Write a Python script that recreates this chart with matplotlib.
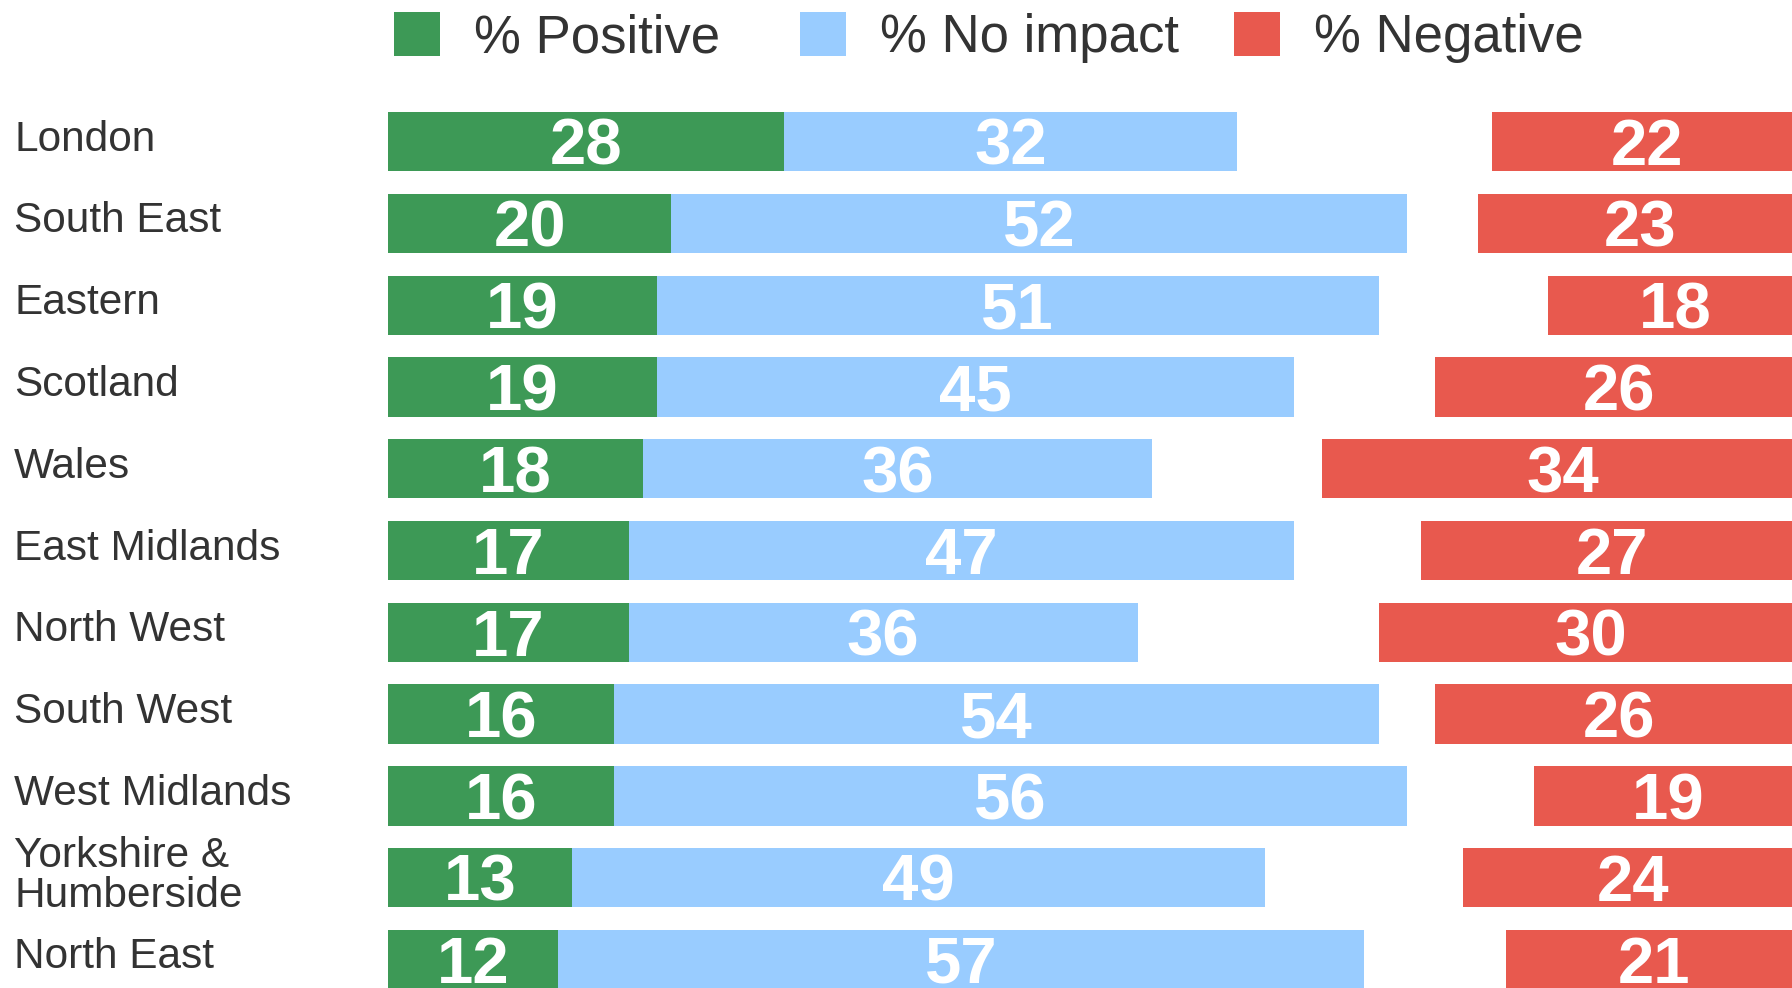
import matplotlib.pyplot as plt
from matplotlib.transforms import blended_transform_factory

regions = ["London", "South East", "Eastern", "Scotland", "Wales", "East Midlands",
           "North West", "South West", "West Midlands", "Yorkshire &\nHumberside", "North East"]
positive = [28, 20, 19, 19, 18, 17, 17, 16, 16, 13, 12]
no_impact = [32, 52, 51, 45, 36, 47, 36, 54, 56, 49, 57]
negative = [22, 23, 18, 26, 34, 27, 30, 26, 19, 24, 21]
series_names = ["% Positive", "% No impact", "% Negative"]

green = "#3d9956"
blue = "#99ccff"
red = "#e8594e"
grey = "#333333"

plt.rcParams['font.family'] = ['Liberation Sans', 'DejaVu Sans']

W, H = 1792, 988
fig = plt.figure(figsize=(W / 100, H / 100), dpi=100)
ax = fig.add_axes([388 / W, 0, 1 - 388 / W, 876 / H])

y = list(range(len(regions)))
bh = 0.726
right = 100  # red bars are right-aligned on the 100 mark
neg_left = [right - v for v in negative]

b1 = ax.barh(y, positive, height=bh, color=green, label=series_names[0])
b2 = ax.barh(y, no_impact, left=positive, height=bh, color=blue, label=series_names[1])
b3 = ax.barh(y, negative, left=neg_left, height=bh, color=red, label=series_names[2])

ax.set_xlim(0, (W - 388) / 14.15)
ax.set_ylim(10.35, -0.363)
ax.axis('off')

# value labels
for i in y:
    for left, val in ((0, positive[i]), (positive[i], no_impact[i]), (neg_left[i], negative[i])):
        ax.text(left + val / 2, i + 0.285, str(val), ha='center', va='baseline',
                color='white', fontsize=47, fontweight='bold')

# region names
tr = blended_transform_factory(fig.transFigure, ax.transData)
for i, name in enumerate(regions):
    n = name.count("\n")
    ax.text(14 / W, i + 0.11 + n * 0.245, name, transform=tr, ha='left', va='baseline',
            fontsize=30.5, color=grey, linespacing=1.0)

# legend: one entry per box so each can sit where the original has it
for bars, x0 in ((b1, 394), (b2, 800), (b3, 1234)):
    fig.legend(handles=[bars], loc='upper left', bbox_to_anchor=(x0 / W, 1 - 12 / H),
               frameon=False, fontsize=38, labelcolor=grey,
               handlelength=0.87, handleheight=0.91, handletextpad=0.64,
               borderpad=0, borderaxespad=0)

fig.savefig("out.png", dpi=100)
